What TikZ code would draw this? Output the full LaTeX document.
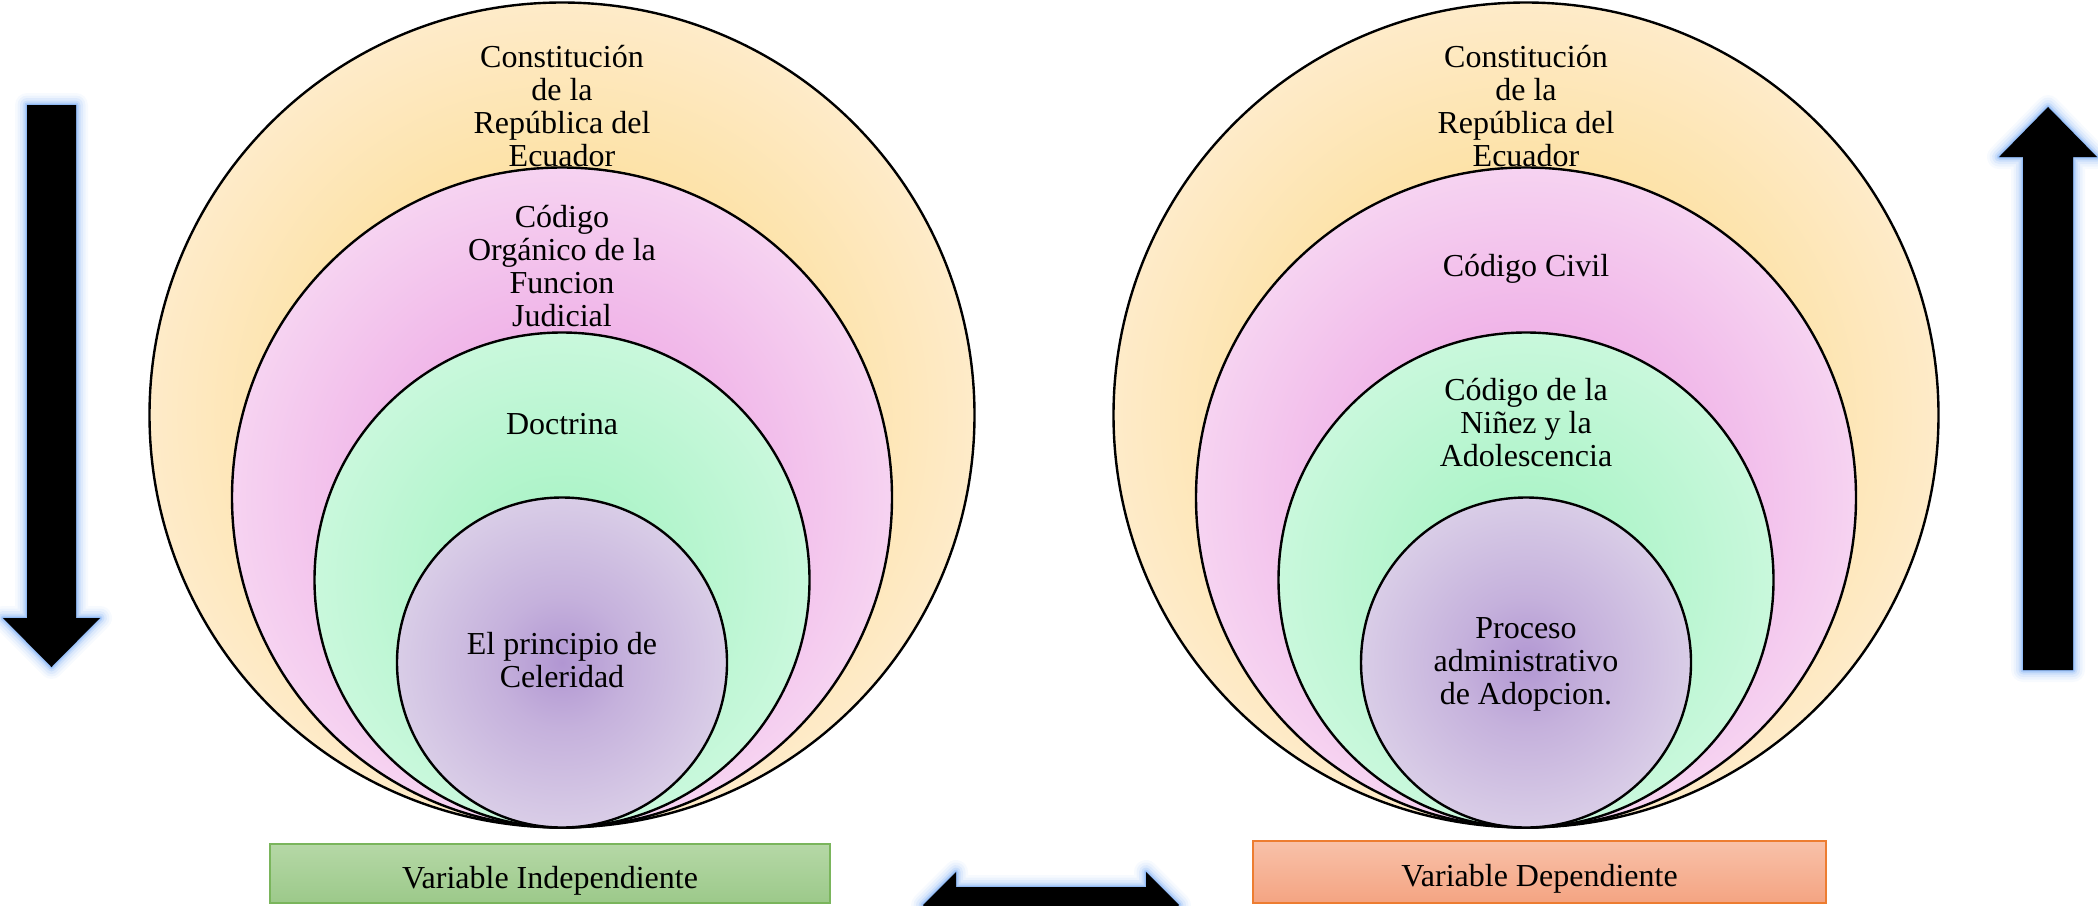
\documentclass[tikz,border=0pt]{standalone}
\usepackage{fontspec}
\setmainfont{Liberation Serif}
\definecolor{peachA}{HTML}{FCDC98}
\definecolor{peachB}{HTML}{FDE2A7}
\definecolor{peachC}{HTML}{FEEBC9}
\definecolor{pinkA}{HTML}{EEA8E3}
\definecolor{pinkB}{HTML}{F0B4E8}
\definecolor{pinkC}{HTML}{F6D3F1}
\definecolor{greenA}{HTML}{A3F2C2}
\definecolor{greenB}{HTML}{AEF4C9}
\definecolor{greenC}{HTML}{C9F8DC}
\definecolor{purpA}{HTML}{B196D2}
\definecolor{purpB}{HTML}{C5B1DC}
\definecolor{purpC}{HTML}{D9CDE7}
\definecolor{glowc}{HTML}{8DB8F5}
\definecolor{gtop}{HTML}{B5D8A6}
\definecolor{gbot}{HTML}{9CC98A}
\definecolor{gline}{HTML}{7AB55C}
\definecolor{otop}{HTML}{F8C1A9}
\definecolor{obot}{HTML}{F4A482}
\definecolor{oline}{HTML}{ED7D31}
% the circle edge sits at 25bp in a TikZ-fitted radial shading
\pgfdeclareradialshading{peachsh}{\pgfpointorigin}{color(0bp)=(peachA); color(15bp)=(peachB); color(25bp)=(peachC); color(50bp)=(peachC)}
\pgfdeclareradialshading{pinksh}{\pgfpointorigin}{color(0bp)=(pinkA); color(12.5bp)=(pinkB); color(25bp)=(pinkC); color(50bp)=(pinkC)}
\pgfdeclareradialshading{greensh}{\pgfpointorigin}{color(0bp)=(greenA); color(8.5bp)=(greenB); color(25bp)=(greenC); color(50bp)=(greenC)}
\pgfdeclareradialshading{purpsh}{\pgfpointorigin}{color(0bp)=(purpA); color(10bp)=(purpB); color(25bp)=(purpC); color(50bp)=(purpC)}
\begin{document}
\begin{tikzpicture}[x=0.5pt,y=-0.5pt,
  ring/.style={circle, draw=black, line width=1.2pt, inner sep=0pt},
  txt/.style={align=center, font=\fontsize{16pt}{16.5pt}\selectfont, text=black, inner sep=0pt},
  varbox/.style={rectangle, line width=0.8pt, inner sep=0pt, text height=14.5pt, text depth=0pt,
    font=\fontsize{16pt}{16.5pt}\selectfont, text=black},
  glowline/.style={draw=glowc, line join=round}]
\useasboundingbox (0,0) rectangle (2098,905);
\clip (0,0) rectangle (2098,905);

% left set of circles
\node[ring, shading=peachsh, minimum size=412.5pt] (L1) at (562,415) {};
\node[ring, shading=pinksh, minimum size=330pt] (L2) at (562,497.5) {};
\node[ring, shading=greensh, minimum size=247.5pt] (L3) at (562,580) {};
\node[ring, shading=purpsh, minimum size=165pt] (L4) at (562,662.5) {};
\node[txt] (L1t) at (562,106) {Constitución\\de la\\República del\\Ecuador};
\node[txt] (L2t) at (562,266) {Código\\Orgánico de la\\Funcion\\Judicial};
\node[txt] (L3t) at (562,424) {Doctrina};
\node[txt] (L4t) at (562,660.5) {El principio de\\Celeridad};

% right set of circles
\node[ring, shading=peachsh, minimum size=412.5pt] (R1) at (1526,415) {};
\node[ring, shading=pinksh, minimum size=330pt] (R2) at (1526,497.5) {};
\node[ring, shading=greensh, minimum size=247.5pt] (R3) at (1526,580) {};
\node[ring, shading=purpsh, minimum size=165pt] (R4) at (1526,662.5) {};
\node[txt] (R1t) at (1526,106) {Constitución\\de la\\República del\\Ecuador};
\node[txt] (R2t) at (1526,269) {Código Civil};
\node[txt] (R3t) at (1526,423) {Código de la\\Niñez y la\\Adolescencia};
\node[txt] (R4t) at (1526,664) {Proceso\\administrativo\\de Adopcion.};

% variable boxes
\node[varbox, draw=gline, top color=gtop, bottom color=gbot, minimum width=280pt, minimum height=29.5pt]
  (vi) at (550,873.5) {Variable Independiente};
\node[varbox, draw=oline, top color=otop, bottom color=obot, minimum width=286.5pt, minimum height=31pt]
  (vd) at (1539.5,872) {Variable Dependiente};

% glowing arrows
\foreach \w/\o in {24/0.07,19/0.1,14/0.15,9/0.25,5/0.45,2/0.85}{
  \draw[glowline, line width=\w*0.5pt, opacity=\o]
    (27,105) -- (76,105) -- (76,618) -- (100,618) -- (51.5,667) -- (3,618) -- (27,618) -- cycle;
  \draw[glowline, line width=\w*0.5pt, opacity=\o]
    (2023,670) -- (2073,670) -- (2073,157) -- (2097,157) -- (2048,107) -- (1999,157) -- (2023,157) -- cycle;
  \draw[glowline, line width=\w*0.5pt, opacity=\o]
    (923,905) -- (956,872) -- (956,887) -- (1146,887) -- (1146,872) -- (1179,905) -- (1146,938) -- (1146,923) -- (956,923) -- (956,938) -- cycle;
}
\fill[black] (27,105) -- (76,105) -- (76,618) -- (100,618) -- (51.5,667) -- (3,618) -- (27,618) -- cycle;
\fill[black] (2023,670) -- (2073,670) -- (2073,157) -- (2097,157) -- (2048,107) -- (1999,157) -- (2023,157) -- cycle;
\fill[black] (923,905) -- (956,872) -- (956,887) -- (1146,887) -- (1146,872) -- (1179,905) -- (1146,938) -- (1146,923) -- (956,923) -- (956,938) -- cycle;
\end{tikzpicture}
\end{document}
